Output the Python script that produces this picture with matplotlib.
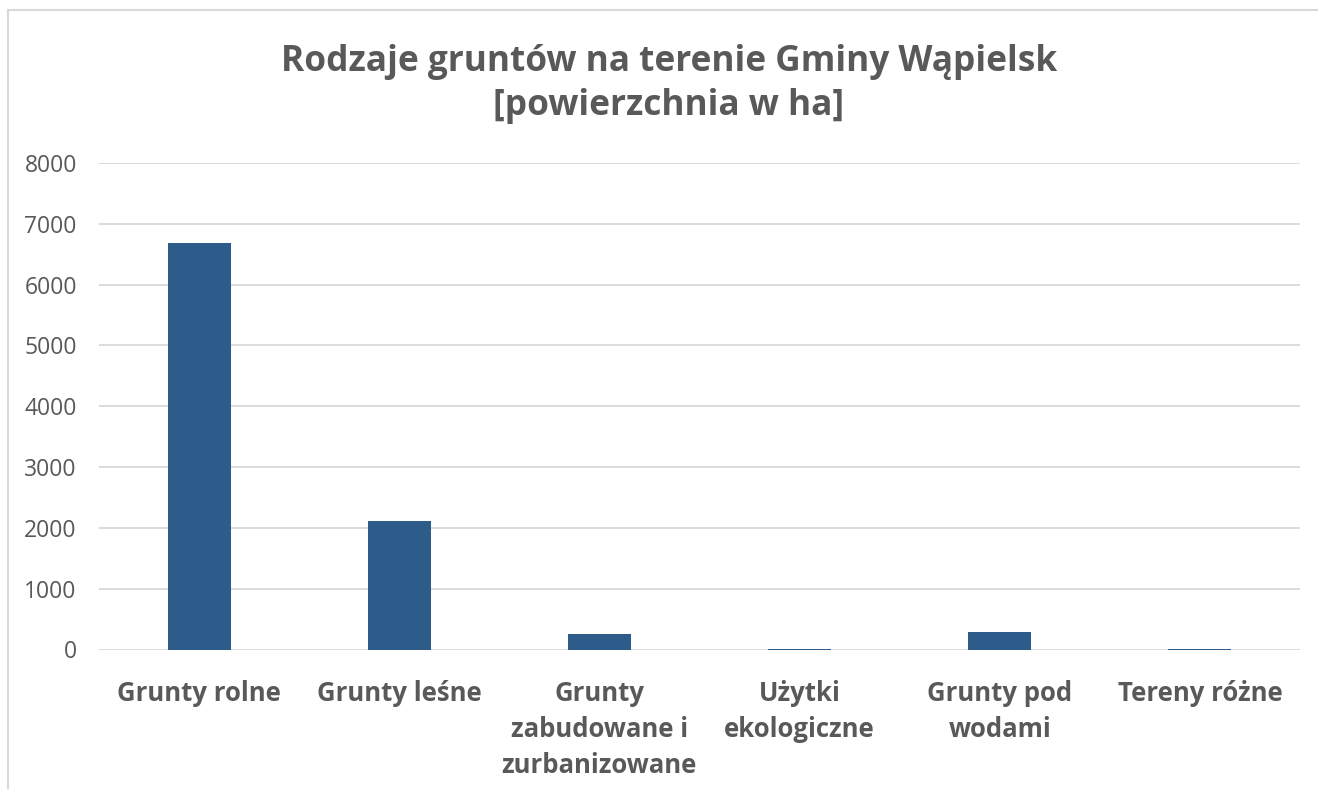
import matplotlib
matplotlib.use("Agg")
import matplotlib.pyplot as plt
from matplotlib.lines import Line2D

categories = ["Grunty rolne", "Grunty leśne", "Grunty\nzabudowane i\nzurbanizowane",
              "Użytki\nekologiczne", "Grunty pod\nwodami", "Tereny różne"]
values = [6690, 2115, 255, 1, 288, 1]
yticks = [0, 1000, 2000, 3000, 4000, 5000, 6000, 7000, 8000]
title = "Rodzaje gruntów na terenie Gminy Wąpielsk\n[powierzchnia w ha]"

W, H = 1318, 789
fig = plt.figure(figsize=(W / 100, H / 100), dpi=100)
fig.patch.set_facecolor("white")

font = "Open Sans"
txt = "#595959"
grid = "#d9d9d9"

ax = fig.add_axes([99 / W, 1 - 649.5 / H, (1300 - 99) / W, (649.5 - 163) / H])
x = list(range(len(categories)))
ax.bar(x, values, width=0.315, color="#2E5C8A", zorder=3)
ax.set_xlim(-0.5, len(categories) - 0.5)
ax.set_ylim(0, 8000)
ax.set_yticks(yticks)
ax.set_yticklabels([str(v) for v in yticks], fontfamily=font, fontsize=16.5, color=txt)
ax.set_xticks(x)
ax.set_xticklabels(categories, fontfamily=font, fontsize=18.5, fontweight="bold",
                   color=txt, linespacing=1.42, va="top")
ax.tick_params(axis="y", length=0, pad=16)
ax.tick_params(axis="x", length=0, pad=22)
ax.yaxis.grid(True, color=grid, linewidth=1.3, zorder=0)
ax.set_axisbelow(True)
for s in ax.spines.values():
    s.set_visible(False)

fig.text(669 / W, 1 - 44 / H, title, ha="center", va="top", fontfamily=font,
         fontsize=25.4, fontweight="bold", color=txt, linespacing=1.3)

# chart frame (partially cropped at right/bottom)
fig.add_artist(Line2D([8 / W, 8 / W], [0, 1 - 10 / H], transform=fig.transFigure,
                      color=grid, linewidth=1.5))
fig.add_artist(Line2D([8 / W, 1], [1 - 10 / H, 1 - 10 / H], transform=fig.transFigure,
                      color=grid, linewidth=1.5))

fig.savefig("out.png", dpi=100, facecolor="white")
